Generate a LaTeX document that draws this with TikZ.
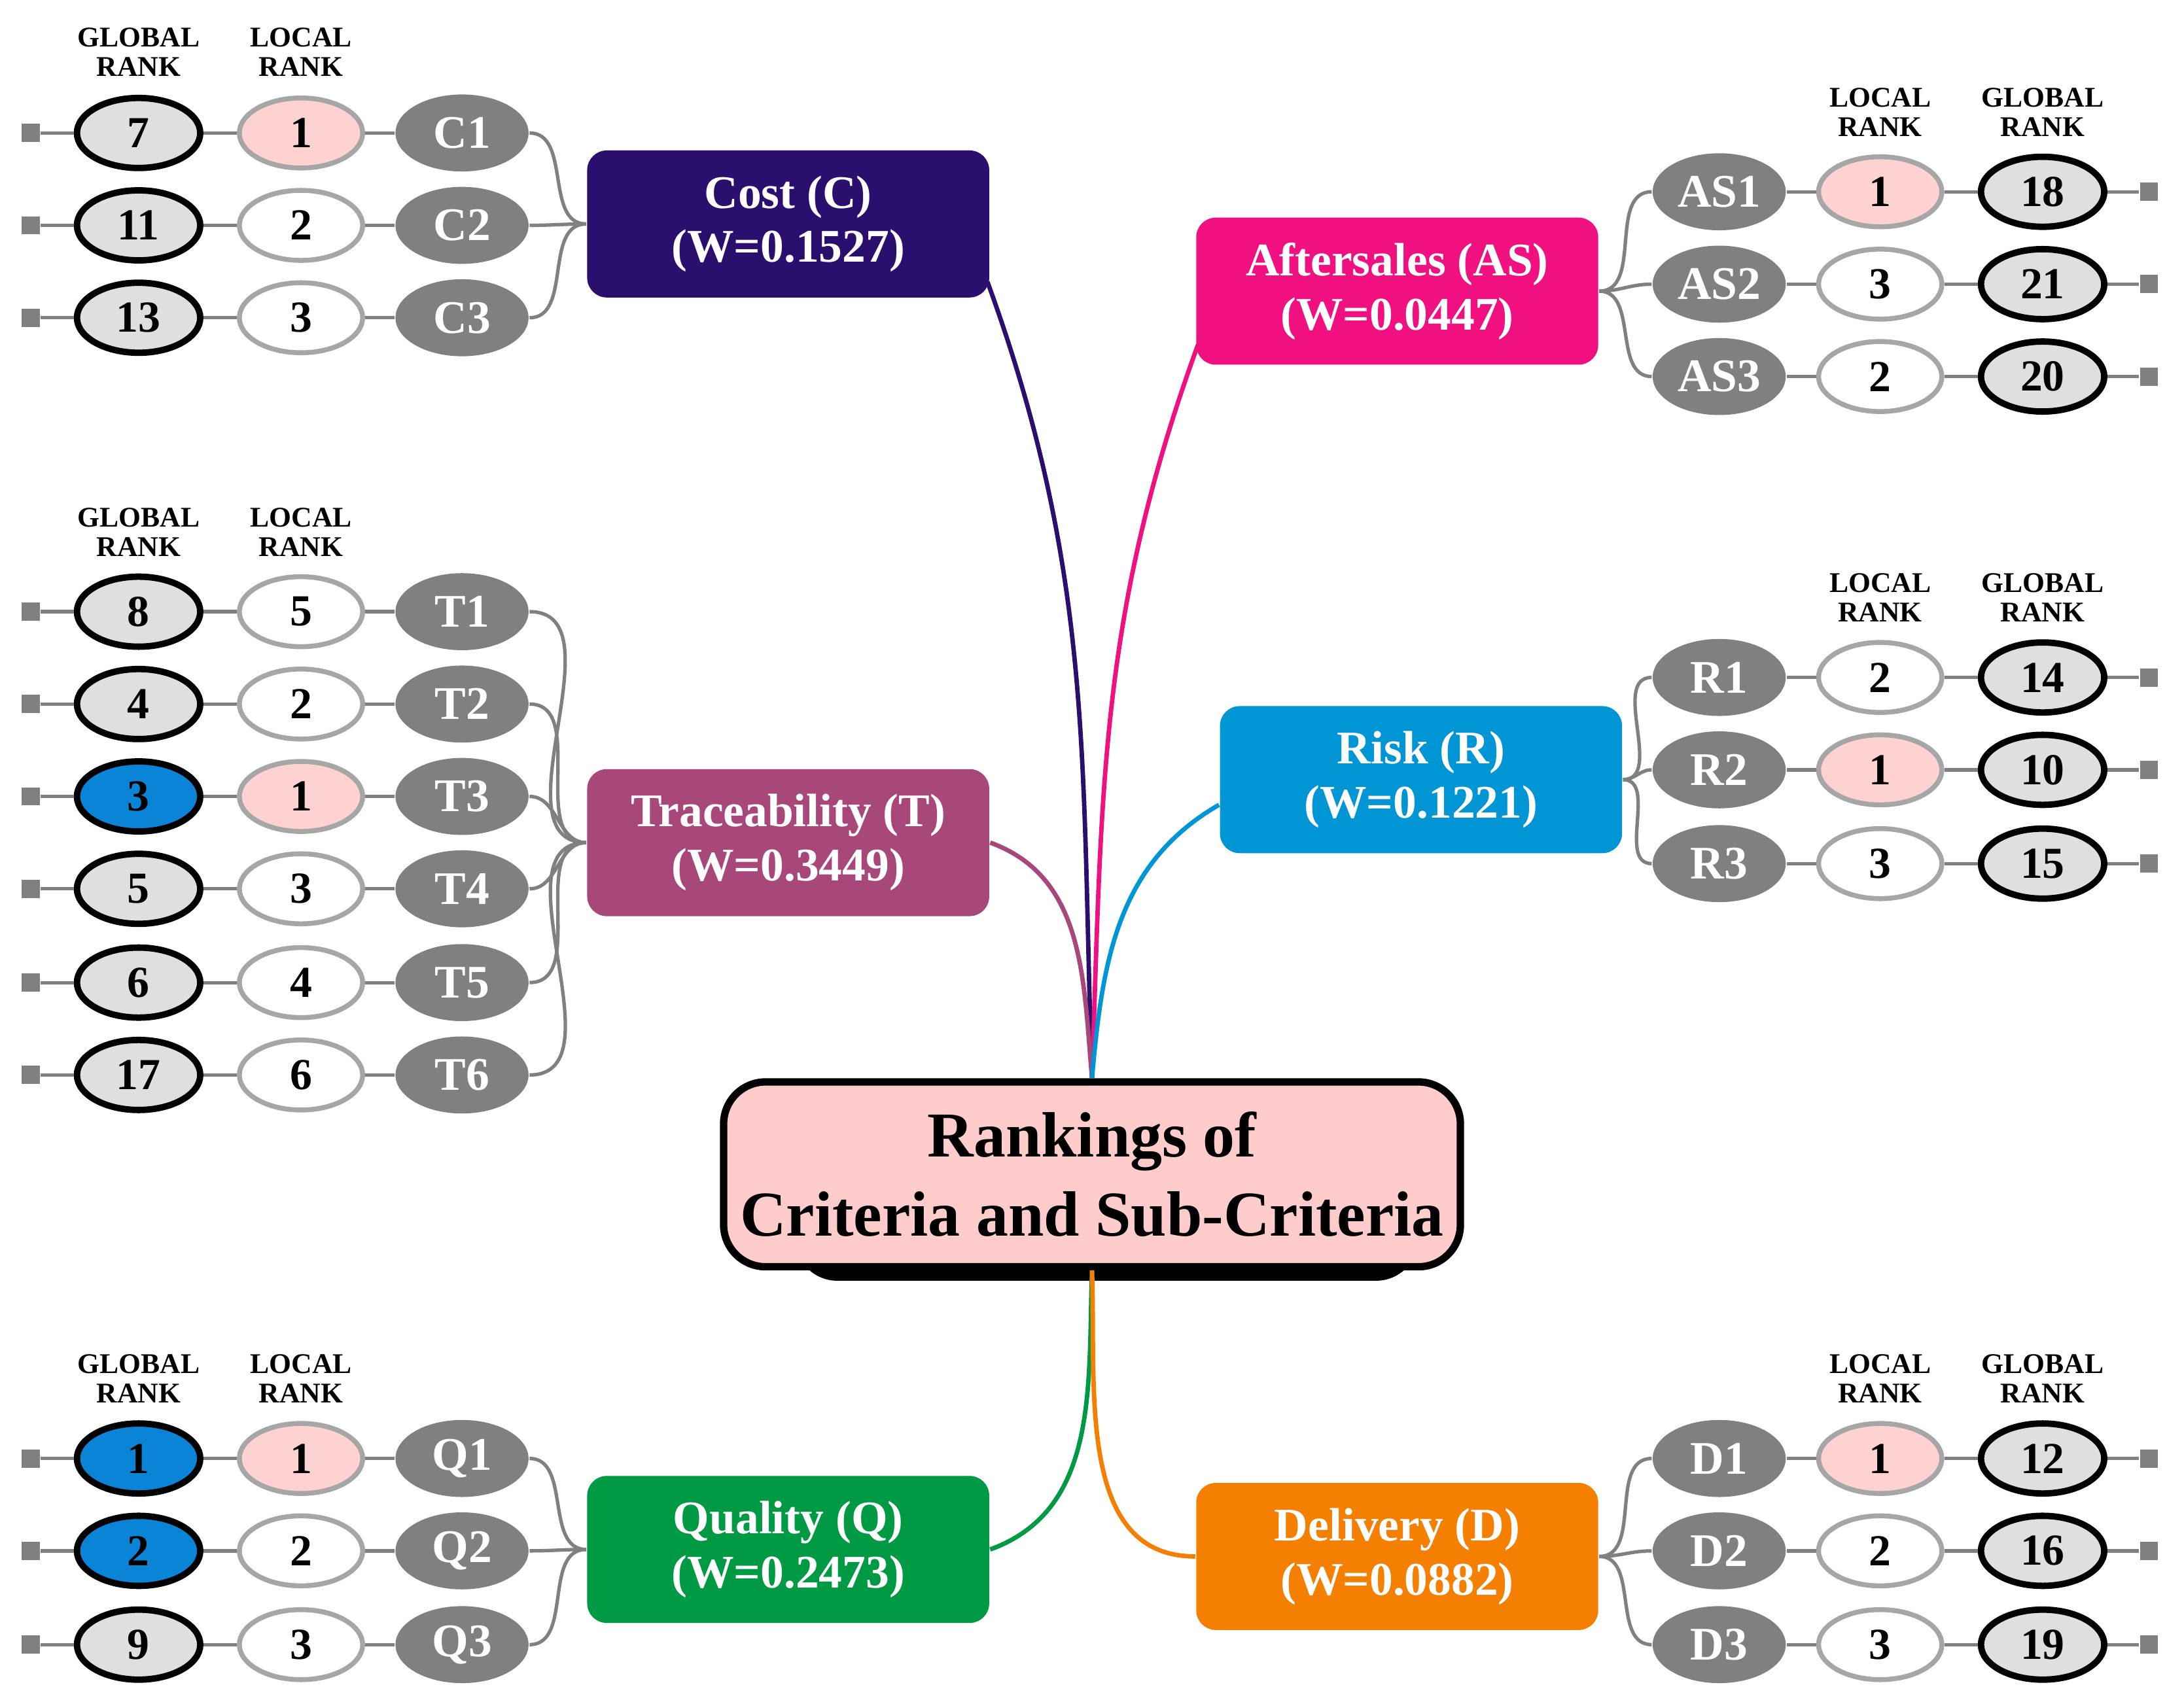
\documentclass[tikz,border=0pt]{standalone}
\usepackage{fontspec}
\setmainfont{Liberation Serif}
\usetikzlibrary{shapes.geometric}
\begin{document}
\begin{tikzpicture}[x=0.01cm,y=-0.01cm,font=\bfseries,
 glob/.style={ellipse,draw=black,line width=1.3pt,fill=gray!25,minimum width=0.88cm,minimum height=0.5cm,inner sep=0pt,font=\bfseries\fontsize{9}{9}\selectfont},
 gblue/.style={glob,fill=cb},
 loc/.style={ellipse,draw=gray!70,line width=1pt,fill=white,minimum width=0.88cm,minimum height=0.5cm,inner sep=0pt,font=\bfseries\fontsize{9}{9}\selectfont},
 lpink/.style={loc,fill=pink!70},
 sub/.style={ellipse,fill=gray,text=white,minimum width=0.95cm,minimum height=0.55cm,inner sep=0pt,font=\bfseries\fontsize{9.5}{9.5}\selectfont},
 sq/.style={rectangle,fill=gray,minimum size=0.13cm,inner sep=0pt},
 hdr/.style={align=center,font=\bfseries\fontsize{5.8}{6}\selectfont},
 crit/.style={rounded corners=0.14cm,minimum width=2.87cm,minimum height=1.05cm,text=white,align=center,font=\bfseries\fontsize{9.5}{11}\selectfont},
 ln/.style={gray,line width=0.7pt}]
\useasboundingbox (0,0) rectangle (1560,1217);
\definecolor{cnavy}{HTML}{2A0F6E}\definecolor{cmag}{HTML}{F0107F}\definecolor{ctr}{HTML}{A8477A}
\definecolor{crisk}{HTML}{0096D6}\definecolor{cq}{HTML}{009944}\definecolor{cd}{HTML}{F57F00}
\definecolor{cb}{HTML}{0A84D6}
\node[crit,fill=cnavy] (cost) at (563,160) {Cost (C)\\(W=0.1527)};
\node[crit,fill=cmag] (as) at (998,208) {Aftersales (AS)\\(W=0.0447)};
\node[crit,fill=ctr] (tr) at (563,602) {Traceability (T)\\(W=0.3449)};
\node[crit,fill=crisk] (risk) at (1015,557) {Risk (R)\\(W=0.1221)};
\node[crit,fill=cq] (qual) at (563,1107) {Quality (Q)\\(W=0.2473)};
\node[crit,fill=cd] (del) at (998,1112) {Delivery (D)\\(W=0.0882)};
\fill[black,rounded corners=0.3cm] (568,783) rectangle (1013,915);
\node[draw=black,line width=1.5pt,fill=pink!80,rounded corners=0.3cm,minimum width=4.45cm,minimum height=1.32cm,align=center,font=\bfseries\fontsize{13}{16}\selectfont] (cen) at (780,839) {Rankings of\\Criteria and Sub-Criteria};
\foreach \n/\y/\g/\l/\gs/\ls/\b in {C1/95/7/1/glob/lpink/cost,C2/161/11/2/glob/loc/cost,C3/227/13/3/glob/loc/cost,
 T1/437/8/5/glob/loc/tr,T2/503/4/2/glob/loc/tr,T3/569/3/1/gblue/lpink/tr,T4/635/5/3/glob/loc/tr,T5/702/6/4/glob/loc/tr,T6/768/17/6/glob/loc/tr,
 Q1/1042/1/1/gblue/lpink/qual,Q2/1108/2/2/gblue/loc/qual,Q3/1175/9/3/glob/loc/qual}{
 \node[sq] (q\n) at (22,\y) {};
 \node[\gs] (g\n) at (99,\y) {\g};
 \node[\ls] (l\n) at (215,\y) {\l};
 \node[sub] (s\n) at (330,\y) {\n};
 \draw[ln] (q\n) -- (g\n) -- (l\n) -- (s\n);
 \draw[ln] (s\n.east) to[out=0,in=180] (\b.west);
}
\foreach \n/\y/\g/\l/\gs/\ls/\b in {AS1/137/18/1/glob/lpink/as,AS2/203/21/3/glob/loc/as,AS3/269/20/2/glob/loc/as,
 R1/484/14/2/glob/loc/risk,R2/550/10/1/glob/lpink/risk,R3/617/15/3/glob/loc/risk,
 D1/1042/12/1/glob/lpink/del,D2/1108/16/2/glob/loc/del,D3/1175/19/3/glob/loc/del}{
 \node[sq] (q\n) at (1535,\y) {};
 \node[\gs] (g\n) at (1459,\y) {\g};
 \node[\ls] (l\n) at (1343,\y) {\l};
 \node[sub] (s\n) at (1228,\y) {\n};
 \draw[ln] (q\n) -- (g\n) -- (l\n) -- (s\n);
 \draw[ln] (s\n.west) to[out=180,in=0] (\b.east);
}
\foreach \i/\x/\y/\t in {a/99/37/GLOBAL,b/215/37/LOCAL,c/99/380/GLOBAL,d/215/380/LOCAL,e/99/985/GLOBAL,f/215/985/LOCAL,
 g/1343/80/LOCAL,h/1459/80/GLOBAL,i/1343/427/LOCAL,j/1459/427/GLOBAL,k/1343/985/LOCAL,l/1459/985/GLOBAL}
 \node[hdr] (h\i) at (\x,\y) {\t\\RANK};
\draw[cnavy,line width=0.9pt] (cost.south east) ++(-2,-12) coordinate (c1) (c1) to[out=-70,in=92] (cen.north);
\draw[cmag,line width=0.9pt] (as.south west) ++(2,-15) coordinate (c2) (c2) to[out=-110,in=88] (cen.north);
\draw[ctr,line width=0.9pt] (tr.east) to[out=-20,in=95] (cen.north);
\draw[crisk,line width=0.9pt] (risk.west) ++(0,18) coordinate (c3) (c3) to[out=-150,in=85] (cen.north);
\draw[cq,line width=0.9pt] (cen.south) to[out=-92,in=20] (qual.east);
\draw[cd,line width=0.9pt] (cen.south) to[out=-88,in=180] (del.west);
\end{tikzpicture}
\end{document}
